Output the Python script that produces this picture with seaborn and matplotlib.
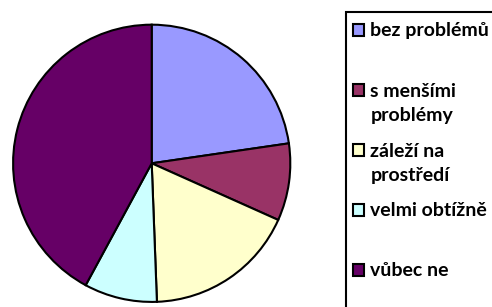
import matplotlib
matplotlib.use("Agg")
import matplotlib.pyplot as plt
from matplotlib.patches import Rectangle
import seaborn as sns

# share of answers (clockwise from 12 o'clock)
labels = ["bez problémů", "s menšími\nproblémy", "záleží na\nprostředí", "velmi obtížně", "vůbec ne"]
values = [22.7, 9.0, 17.7, 8.5, 42.1]
colors = ["#9999FF", "#993366", "#FFFFCC", "#CCFFFF", "#660066"]

sns.set_theme(style="white")
plt.rcParams["font.family"] = ["Lato", "DejaVu Sans"]

W, H = 492, 307
fig = plt.figure(figsize=(W / 100, H / 100), dpi=100)
ax = fig.add_axes([11.7 / W, 3.7 / H, 280 / W, 280 / H])

wedges, _ = ax.pie(values, colors=colors, startangle=90, counterclock=False,
                   wedgeprops=dict(edgecolor="black", linewidth=1.5))
ax.set_xlim(-1.01, 1.01)
ax.set_ylim(-1.01, 1.01)
ax.axis("off")

# legend box runs off the right and bottom edge, as in the original
fig.patches.append(Rectangle((345.7 / W, -0.1), 0.5, 1.1 - 11.7 / H,
                             transform=fig.transFigure, facecolor="white",
                             edgecolor="black", linewidth=1.5, zorder=0))

# Excel style legend: one slot of 60 px per entry, text hanging from the first line
for i, (lab, w) in enumerate(zip(labels, wedges)):
    top = 24.3 + 60 * i
    fig.patches.append(Rectangle((352.7 / W, 1 - (top + 11.6) / H), 11.6 / W, 11.6 / H,
                                 transform=fig.transFigure, facecolor=w.get_facecolor(),
                                 edgecolor="black", linewidth=1.5))
    # va="baseline" pins the last line, so step down for wrapped labels
    base = 36 + 60 * i + 25 * lab.count("\n")
    fig.text(370.5 / W, 1 - base / H, lab, va="baseline", ha="left",
             fontsize=14, fontweight="bold", linespacing=1.5, color="black")

fig.savefig("out.png", dpi=100)
